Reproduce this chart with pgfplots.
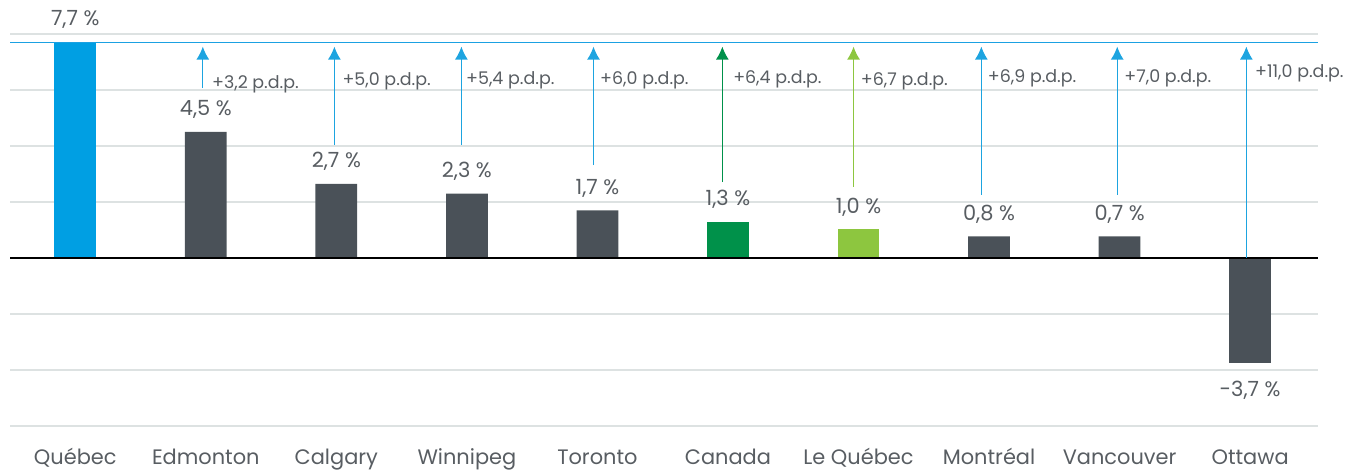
\documentclass[border=0pt]{standalone}
\usepackage{fontspec}
\setmainfont{Poppins}
\usepackage{pgfplots}
\pgfplotsset{compat=1.18}
\usetikzlibrary{arrows.meta}
\definecolor{qblue}{HTML}{009FE3}
\definecolor{barGrey}{HTML}{4A5158}
\definecolor{canGreen}{HTML}{00914A}
\definecolor{lqGreen}{HTML}{8DC63F}
\definecolor{arrowBlue}{HTML}{1DA4E0}
\definecolor{lineBlue}{HTML}{1BA1E2}
\definecolor{gridGrey}{HTML}{DDE2E2}
\definecolor{textGrey}{HTML}{585D62}
\pgfplotsset{
  vlab/.style={nodes near coords, point meta=explicit symbolic,
    every node near coord/.append style={anchor=base, yshift=#1, inner sep=0pt,
      font=\fontsize{21}{24}\selectfont, text=textGrey}},
  mybar/.style={ybar, bar width=0.32, bar shift=0pt, draw=none, fill=#1},
}
\begin{document}
\begin{tikzpicture}
\begin{axis}[name=ax, scale only axis, width=1308bp, height=392bp,
  xmin=-0.5, xmax=9.52, ymin=-6, ymax=8,
  axis line style={draw=none}, major tick length=0pt,
  ytick={-6,-4,...,8}, yticklabels={},
  ymajorgrids, grid style={draw=gridGrey, line width=1.5bp},
  xtick={0,...,9},
  xticklabels={Québec,Edmonton,Calgary,Winnipeg,Toronto,Canada,Le Québec,Montréal,Vancouver,Ottawa},
  xticklabel style={font=\fontsize{21}{24}\selectfont, text=textGrey, anchor=base, inner sep=0pt, yshift=-38bp},
  clip=false]
% bars
\addplot[mybar=qblue, vlab=17bp] coordinates {(0,7.7) [7,7 \%]};
\addplot[mybar=barGrey, vlab=16bp] coordinates {(1,4.5) [4,5 \%] (2,2.65) [2,7 \%] (3,2.3) [2,3 \%] (4,1.7) [1,7 \%] (7,0.77) [0,8 \%] (8,0.77) [0,7 \%]};
\addplot[mybar=canGreen, vlab=16bp] coordinates {(5,1.3) [1,3 \%]};
\addplot[mybar=lqGreen, vlab=16bp] coordinates {(6,1.03) [1,0 \%]};
\addplot[mybar=barGrey, vlab=-34bp] coordinates {(9,-3.74) [-3,7 \%]};
% reference lines
\addplot[draw=black, line width=1.5bp] coordinates {(-0.5,0) (9.52,0)};
\addplot[draw=lineBlue, line width=1.5bp] coordinates {(-0.5,7.7) (9.52,7.7)};
% arrows
\addplot[draw=arrowBlue, line width=1.3bp, -{Latex[length=13bp,width=13bp]}, quiver={u=0, v=\thisrow{v}}] table {
x y v
0.977 6.07 1.48
1.985 4.04 3.51
2.958 4.04 3.51
3.970 3.32 4.23
6.941 2.25 5.30
7.982 2.25 5.30
8.971 0.00 7.55
};
\addplot[draw=canGreen, line width=1.3bp, -{Latex[length=13bp,width=13bp]}, quiver={u=0, v=\thisrow{v}}] table {
x y v
4.957 2.71 4.84
};
\addplot[draw=lqGreen, line width=1.3bp, -{Latex[length=13bp,width=13bp]}, quiver={u=0, v=\thisrow{v}}] table {
x y v
5.962 2.54 5.01
};
% annotations
\addplot[draw=none, mark=none, nodes near coords, point meta=explicit symbolic,
  every node near coord/.append style={anchor=base west, inner sep=0pt,
    font=\fontsize{17.5}{20}\selectfont, text=textGrey}] coordinates {
(1.047,6.07) [+3,2 p.d.p.]
(2.046,6.16) [+5,0 p.d.p.]
(2.993,6.21) [+5,4 p.d.p.]
(4.020,6.21) [+6,0 p.d.p.]
(5.039,6.23) [+6,4 p.d.p.]
(6.017,6.17) [+6,7 p.d.p.]
(6.990,6.26) [+6,9 p.d.p.]
(8.036,6.26) [+7,0 p.d.p.]
(9.037,6.44) [+11,0 p.d.p.]
};
\end{axis}
\pgfresetboundingbox
\path ([shift={(-10bp,-43bp)}]ax.south west) rectangle ([shift={(48bp,34bp)}]ax.north east);
\end{tikzpicture}
\end{document}
